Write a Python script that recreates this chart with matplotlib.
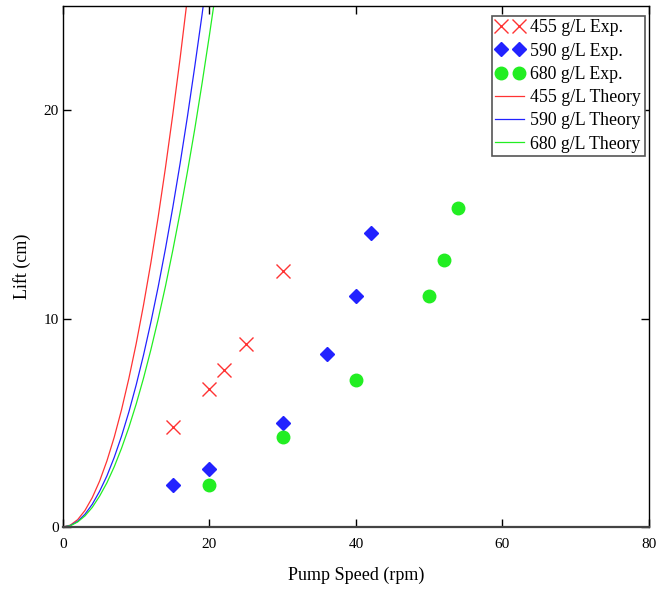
import matplotlib
matplotlib.use("Agg")
import matplotlib.pyplot as plt
from matplotlib.legend_handler import HandlerLine2D

plt.rcParams['font.family'] = ['Liberation Serif', 'DejaVu Serif']

# Experimental data
x455 = [15, 20, 22, 25, 30]
y455 = [4.8, 6.6, 7.55, 8.8, 12.3]
x590 = [15, 20, 30, 36, 40, 42]
y590 = [2.0, 2.8, 5.0, 8.3, 11.1, 14.1]
x680 = [20, 30, 40, 50, 52, 54]
y680 = [2.0, 4.3, 7.07, 11.1, 12.8, 15.3]

# Theory curves
tx455 = [0, 1, 2, 3, 4, 5, 6, 7, 8, 9, 10, 11, 12, 13, 14, 15, 16, 17]
ty455 = [0, 0.088, 0.35, 0.79, 1.41, 2.2, 3.17, 4.31, 5.63, 7.13, 8.8,
         10.65, 12.67, 14.87, 17.25, 19.8, 22.5, 25.4]
tx590 = [0, 1, 2, 3, 4, 5, 6, 7, 8, 9, 10, 11, 12, 13, 14, 15, 16, 17, 18, 19, 20]
ty590 = [0, 0.068, 0.27, 0.61, 1.09, 1.71, 2.45, 3.34, 4.36, 5.52, 6.82,
         8.25, 9.82, 11.52, 13.36, 15.34, 17.45, 19.7, 22.1, 24.6, 27.3]
tx680 = [0, 1, 2, 3, 4, 5, 6, 7, 8, 9, 10, 11, 12, 13, 14, 15, 16, 17, 18, 19, 20, 21]
ty680 = [0, 0.059, 0.24, 0.53, 0.94, 1.48, 2.12, 2.89, 3.78, 4.78, 5.9,
         7.14, 8.5, 9.97, 11.56, 13.28, 15.1, 17.05, 19.1, 21.3, 23.6, 26.0]

xticks = [0, 20, 40, 60, 80]
yticks = [0, 10, 20]

fig = plt.figure(figsize=(6.56, 5.89), dpi=100)
ax = fig.add_axes([0.096, 0.1053, 0.893, 0.8846])

red = '#ff3333'
blue = '#2222ff'
green = '#22ee22'

m1, = ax.plot(x455, y455, linestyle='none', marker='x', color=red, markersize=10,
              markeredgewidth=1.0, label='455 g/L Exp.')
m2, = ax.plot(x590, y590, linestyle='none', marker='D', color=blue, markersize=7,
              label='590 g/L Exp.')
m3, = ax.plot(x680, y680, linestyle='none', marker='o', color=green, markersize=9,
              label='680 g/L Exp.')
l1, = ax.plot(tx455, ty455, color=red, linewidth=0.9, label='455 g/L Theory')
l2, = ax.plot(tx590, ty590, color=blue, linewidth=0.9, label='590 g/L Theory')
l3, = ax.plot(tx680, ty680, color=green, linewidth=0.9, label='680 g/L Theory')

ax.set_xlim(0, 80)
ax.set_ylim(0, 25)
ax.set_xticks(xticks)
ax.set_yticks(yticks)
ax.tick_params(direction='in', top=True, right=True, length=6, width=1,
               labelsize=11)
ax.tick_params(axis='x', pad=8)
ax.tick_params(axis='y', pad=3)
for s in ax.spines.values():
    s.set_linewidth(1.0)
ax.spines['bottom'].set_linewidth(1.6)
ax.spines['bottom'].set_color('#444444')

ax.set_xlabel('Pump Speed (rpm)', fontsize=13, labelpad=11)
ax.set_ylabel('Lift (cm)', fontsize=13, labelpad=9)

hm = {m1: HandlerLine2D(marker_pad=0.3), m2: HandlerLine2D(marker_pad=0.3),
      m3: HandlerLine2D(marker_pad=0.3), l1: HandlerLine2D(marker_pad=0),
      l2: HandlerLine2D(marker_pad=0), l3: HandlerLine2D(marker_pad=0)}

leg = ax.legend(handles=[m1, m2, m3, l1, l2, l3], handler_map=hm,
                loc='upper right', numpoints=2, fontsize=12.8, fancybox=False,
                edgecolor='#555555', framealpha=1, handlelength=1.63,
                handletextpad=0.34, borderpad=0.2, labelspacing=0.35,
                borderaxespad=0, bbox_to_anchor=(0.993, 0.981))
leg.get_frame().set_linewidth(1.2)

fig.savefig('out.png', dpi=100)
